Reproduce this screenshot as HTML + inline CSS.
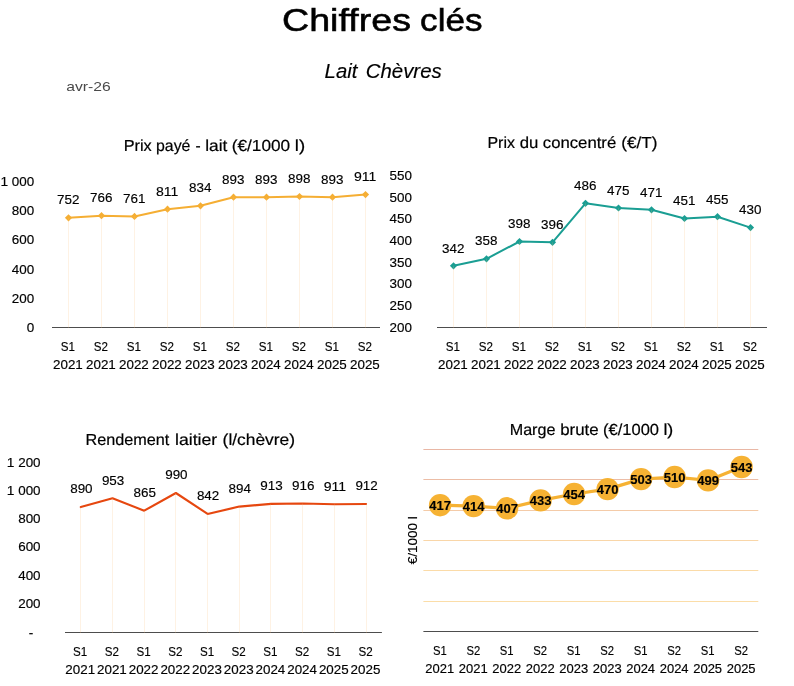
<!DOCTYPE html>
<html lang="fr"><head><meta charset="utf-8"><title>Chiffres clés</title>
<style>
html,body{margin:0;padding:0;background:#fff}
svg{display:block}
text{font-family:"Liberation Sans",sans-serif;stroke:#000;stroke-width:0.15px}
</style></head><body>
<svg width="794" height="686" viewBox="0 0 794 686">
<rect width="794" height="686" fill="#fff"/>
<text y="30.6" font-size="30.6" style="stroke-width:0.55px"><tspan x="281.99" textLength="128.97" lengthAdjust="spacingAndGlyphs">Chiffres</tspan> <tspan x="420.13" textLength="62.29" lengthAdjust="spacingAndGlyphs">clés</tspan></text>
<text y="77.8" font-size="19.6" font-style="italic"><tspan x="324.62" textLength="32.73" lengthAdjust="spacingAndGlyphs">Lait</tspan> <tspan x="365.70" textLength="76.06" lengthAdjust="spacingAndGlyphs">Chèvres</tspan></text>
<text x="66.2" y="90.9" font-size="13" fill="#4a4a4a" style="stroke:none" textLength="44.5" lengthAdjust="spacingAndGlyphs">avr-26</text>
<line x1="52.0" y1="327.5" x2="380.0" y2="327.5" stroke="#4d4d4d" stroke-width="1"/>
<polyline points="68.5,217.8 101.5,215.7 134.5,216.4 167.5,209.2 200.5,205.8 233.5,197.2 266.5,197.2 299.5,196.5 332.5,197.2 365.5,194.6" fill="none" stroke="#F5AE33" stroke-width="2.0" stroke-linejoin="round" stroke-linecap="round"/>
<path d="M64.9 217.8L68.5 214.2L72.1 217.8L68.5 221.4Z" fill="#F5AE33"/>
<path d="M97.9 215.7L101.5 212.1L105.1 215.7L101.5 219.3Z" fill="#F5AE33"/>
<path d="M130.9 216.4L134.5 212.8L138.1 216.4L134.5 220.0Z" fill="#F5AE33"/>
<path d="M163.9 209.2L167.5 205.6L171.1 209.2L167.5 212.8Z" fill="#F5AE33"/>
<path d="M196.9 205.8L200.5 202.2L204.1 205.8L200.5 209.4Z" fill="#F5AE33"/>
<path d="M229.9 197.2L233.5 193.6L237.1 197.2L233.5 200.8Z" fill="#F5AE33"/>
<path d="M262.9 197.2L266.5 193.6L270.1 197.2L266.5 200.8Z" fill="#F5AE33"/>
<path d="M295.9 196.5L299.5 192.9L303.1 196.5L299.5 200.1Z" fill="#F5AE33"/>
<path d="M328.9 197.2L332.5 193.6L336.1 197.2L332.5 200.8Z" fill="#F5AE33"/>
<path d="M361.9 194.6L365.5 191.0L369.1 194.6L365.5 198.2Z" fill="#F5AE33"/>
<line x1="68.5" y1="217.8" x2="68.5" y2="328.0" stroke="#F8C07A" stroke-opacity="0.2" stroke-width="1"/>
<line x1="101.5" y1="215.7" x2="101.5" y2="328.0" stroke="#F8C07A" stroke-opacity="0.2" stroke-width="1"/>
<line x1="134.5" y1="216.4" x2="134.5" y2="328.0" stroke="#F8C07A" stroke-opacity="0.2" stroke-width="1"/>
<line x1="167.5" y1="209.2" x2="167.5" y2="328.0" stroke="#F8C07A" stroke-opacity="0.2" stroke-width="1"/>
<line x1="200.5" y1="205.8" x2="200.5" y2="328.0" stroke="#F8C07A" stroke-opacity="0.2" stroke-width="1"/>
<line x1="233.5" y1="197.2" x2="233.5" y2="328.0" stroke="#F8C07A" stroke-opacity="0.2" stroke-width="1"/>
<line x1="266.5" y1="197.2" x2="266.5" y2="328.0" stroke="#F8C07A" stroke-opacity="0.2" stroke-width="1"/>
<line x1="299.5" y1="196.5" x2="299.5" y2="328.0" stroke="#F8C07A" stroke-opacity="0.2" stroke-width="1"/>
<line x1="332.5" y1="197.2" x2="332.5" y2="328.0" stroke="#F8C07A" stroke-opacity="0.2" stroke-width="1"/>
<line x1="365.5" y1="194.6" x2="365.5" y2="328.0" stroke="#F8C07A" stroke-opacity="0.2" stroke-width="1"/>
<text x="57.0" y="204.4" font-size="12.5" textLength="22.4" lengthAdjust="spacingAndGlyphs">752</text>
<text x="90.0" y="202.3" font-size="12.5" textLength="22.4" lengthAdjust="spacingAndGlyphs">766</text>
<text x="123.0" y="203.0" font-size="12.5" textLength="22.4" lengthAdjust="spacingAndGlyphs">761</text>
<text x="156.0" y="195.8" font-size="12.5" textLength="22.4" lengthAdjust="spacingAndGlyphs">811</text>
<text x="189.0" y="192.4" font-size="12.5" textLength="22.4" lengthAdjust="spacingAndGlyphs">834</text>
<text x="222.0" y="183.8" font-size="12.5" textLength="22.4" lengthAdjust="spacingAndGlyphs">893</text>
<text x="255.0" y="183.8" font-size="12.5" textLength="22.4" lengthAdjust="spacingAndGlyphs">893</text>
<text x="288.0" y="183.1" font-size="12.5" textLength="22.4" lengthAdjust="spacingAndGlyphs">898</text>
<text x="321.0" y="183.8" font-size="12.5" textLength="22.4" lengthAdjust="spacingAndGlyphs">893</text>
<text x="354.0" y="181.2" font-size="12.5" textLength="22.4" lengthAdjust="spacingAndGlyphs">911</text>
<text x="60.8" y="351.3" font-size="12.5" textLength="14.2" lengthAdjust="spacingAndGlyphs">S1</text>
<text x="53.0" y="368.9" font-size="12.5" textLength="29.8" lengthAdjust="spacingAndGlyphs">2021</text>
<text x="93.8" y="351.3" font-size="12.5" textLength="14.2" lengthAdjust="spacingAndGlyphs">S2</text>
<text x="86.0" y="368.9" font-size="12.5" textLength="29.8" lengthAdjust="spacingAndGlyphs">2021</text>
<text x="126.8" y="351.3" font-size="12.5" textLength="14.2" lengthAdjust="spacingAndGlyphs">S1</text>
<text x="119.0" y="368.9" font-size="12.5" textLength="29.8" lengthAdjust="spacingAndGlyphs">2022</text>
<text x="159.8" y="351.3" font-size="12.5" textLength="14.2" lengthAdjust="spacingAndGlyphs">S2</text>
<text x="152.0" y="368.9" font-size="12.5" textLength="29.8" lengthAdjust="spacingAndGlyphs">2022</text>
<text x="192.8" y="351.3" font-size="12.5" textLength="14.2" lengthAdjust="spacingAndGlyphs">S1</text>
<text x="185.0" y="368.9" font-size="12.5" textLength="29.8" lengthAdjust="spacingAndGlyphs">2023</text>
<text x="225.8" y="351.3" font-size="12.5" textLength="14.2" lengthAdjust="spacingAndGlyphs">S2</text>
<text x="218.0" y="368.9" font-size="12.5" textLength="29.8" lengthAdjust="spacingAndGlyphs">2023</text>
<text x="258.8" y="351.3" font-size="12.5" textLength="14.2" lengthAdjust="spacingAndGlyphs">S1</text>
<text x="251.0" y="368.9" font-size="12.5" textLength="29.8" lengthAdjust="spacingAndGlyphs">2024</text>
<text x="291.8" y="351.3" font-size="12.5" textLength="14.2" lengthAdjust="spacingAndGlyphs">S2</text>
<text x="284.0" y="368.9" font-size="12.5" textLength="29.8" lengthAdjust="spacingAndGlyphs">2024</text>
<text x="324.8" y="351.3" font-size="12.5" textLength="14.2" lengthAdjust="spacingAndGlyphs">S1</text>
<text x="317.0" y="368.9" font-size="12.5" textLength="29.8" lengthAdjust="spacingAndGlyphs">2025</text>
<text x="357.8" y="351.3" font-size="12.5" textLength="14.2" lengthAdjust="spacingAndGlyphs">S2</text>
<text x="350.0" y="368.9" font-size="12.5" textLength="29.8" lengthAdjust="spacingAndGlyphs">2025</text>
<text y="186.0" font-size="12.5"><tspan x="0.4" textLength="11.5" lengthAdjust="spacingAndGlyphs">1 </tspan><tspan x="11.8" textLength="22.4" lengthAdjust="spacingAndGlyphs">000</tspan></text>
<text x="11.8" y="215.0" font-size="12.5" textLength="22.4" lengthAdjust="spacingAndGlyphs">800</text>
<text x="11.8" y="244.0" font-size="12.5" textLength="22.4" lengthAdjust="spacingAndGlyphs">600</text>
<text x="11.8" y="274.0" font-size="12.5" textLength="22.4" lengthAdjust="spacingAndGlyphs">400</text>
<text x="11.8" y="303.0" font-size="12.5" textLength="22.4" lengthAdjust="spacingAndGlyphs">200</text>
<text x="26.7" y="332.0" font-size="12.5" textLength="7.5" lengthAdjust="spacingAndGlyphs">0</text>
<text y="151.0" font-size="16.0" style="stroke-width:0.2px;text-rendering:geometricPrecision"><tspan x="123.71" textLength="28.04" lengthAdjust="spacingAndGlyphs">Prix</tspan> <tspan x="156.07" textLength="34.35" lengthAdjust="spacingAndGlyphs">payé</tspan> <tspan x="195.40" textLength="5.14" lengthAdjust="spacingAndGlyphs">-</tspan> <tspan x="205.22" textLength="22.16" lengthAdjust="spacingAndGlyphs">lait</tspan> <tspan x="231.80" textLength="58.35" lengthAdjust="spacingAndGlyphs">(€/1000</tspan> <tspan x="294.87" textLength="10.31" lengthAdjust="spacingAndGlyphs">l)</tspan></text>
<line x1="437.0" y1="327.5" x2="767.0" y2="327.5" stroke="#4d4d4d" stroke-width="1"/>
<polyline points="453.5,265.8 486.5,258.8 519.5,241.5 552.5,242.3 585.5,203.3 618.5,208.0 651.5,209.8 684.5,218.5 717.5,216.7 750.5,227.6" fill="none" stroke="#1A9E93" stroke-width="2.0" stroke-linejoin="round" stroke-linecap="round"/>
<path d="M449.9 265.8L453.5 262.2L457.1 265.8L453.5 269.4Z" fill="#1A9E93"/>
<path d="M482.9 258.8L486.5 255.2L490.1 258.8L486.5 262.4Z" fill="#1A9E93"/>
<path d="M515.9 241.5L519.5 237.9L523.1 241.5L519.5 245.1Z" fill="#1A9E93"/>
<path d="M548.9 242.3L552.5 238.7L556.1 242.3L552.5 245.9Z" fill="#1A9E93"/>
<path d="M581.9 203.3L585.5 199.7L589.1 203.3L585.5 206.9Z" fill="#1A9E93"/>
<path d="M614.9 208.0L618.5 204.4L622.1 208.0L618.5 211.6Z" fill="#1A9E93"/>
<path d="M647.9 209.8L651.5 206.2L655.1 209.8L651.5 213.4Z" fill="#1A9E93"/>
<path d="M680.9 218.5L684.5 214.9L688.1 218.5L684.5 222.1Z" fill="#1A9E93"/>
<path d="M713.9 216.7L717.5 213.1L721.1 216.7L717.5 220.3Z" fill="#1A9E93"/>
<path d="M746.9 227.6L750.5 224.0L754.1 227.6L750.5 231.2Z" fill="#1A9E93"/>
<line x1="453.5" y1="265.8" x2="453.5" y2="328.0" stroke="#F8C07A" stroke-opacity="0.2" stroke-width="1"/>
<line x1="486.5" y1="258.8" x2="486.5" y2="328.0" stroke="#F8C07A" stroke-opacity="0.2" stroke-width="1"/>
<line x1="519.5" y1="241.5" x2="519.5" y2="328.0" stroke="#F8C07A" stroke-opacity="0.2" stroke-width="1"/>
<line x1="552.5" y1="242.3" x2="552.5" y2="328.0" stroke="#F8C07A" stroke-opacity="0.2" stroke-width="1"/>
<line x1="585.5" y1="203.3" x2="585.5" y2="328.0" stroke="#F8C07A" stroke-opacity="0.2" stroke-width="1"/>
<line x1="618.5" y1="208.0" x2="618.5" y2="328.0" stroke="#F8C07A" stroke-opacity="0.2" stroke-width="1"/>
<line x1="651.5" y1="209.8" x2="651.5" y2="328.0" stroke="#F8C07A" stroke-opacity="0.2" stroke-width="1"/>
<line x1="684.5" y1="218.5" x2="684.5" y2="328.0" stroke="#F8C07A" stroke-opacity="0.2" stroke-width="1"/>
<line x1="717.5" y1="216.7" x2="717.5" y2="328.0" stroke="#F8C07A" stroke-opacity="0.2" stroke-width="1"/>
<line x1="750.5" y1="227.6" x2="750.5" y2="328.0" stroke="#F8C07A" stroke-opacity="0.2" stroke-width="1"/>
<text x="442.0" y="253.2" font-size="12.5" textLength="22.4" lengthAdjust="spacingAndGlyphs">342</text>
<text x="475.0" y="245.4" font-size="12.5" textLength="22.4" lengthAdjust="spacingAndGlyphs">358</text>
<text x="508.0" y="228.1" font-size="12.5" textLength="22.4" lengthAdjust="spacingAndGlyphs">398</text>
<text x="541.0" y="228.9" font-size="12.5" textLength="22.4" lengthAdjust="spacingAndGlyphs">396</text>
<text x="574.0" y="189.9" font-size="12.5" textLength="22.4" lengthAdjust="spacingAndGlyphs">486</text>
<text x="607.0" y="194.6" font-size="12.5" textLength="22.4" lengthAdjust="spacingAndGlyphs">475</text>
<text x="640.0" y="197.2" font-size="12.5" textLength="22.4" lengthAdjust="spacingAndGlyphs">471</text>
<text x="673.0" y="205.1" font-size="12.5" textLength="22.4" lengthAdjust="spacingAndGlyphs">451</text>
<text x="706.0" y="204.3" font-size="12.5" textLength="22.4" lengthAdjust="spacingAndGlyphs">455</text>
<text x="739.0" y="214.2" font-size="12.5" textLength="22.4" lengthAdjust="spacingAndGlyphs">430</text>
<text x="445.8" y="351.3" font-size="12.5" textLength="14.2" lengthAdjust="spacingAndGlyphs">S1</text>
<text x="438.0" y="368.9" font-size="12.5" textLength="29.8" lengthAdjust="spacingAndGlyphs">2021</text>
<text x="478.8" y="351.3" font-size="12.5" textLength="14.2" lengthAdjust="spacingAndGlyphs">S2</text>
<text x="471.0" y="368.9" font-size="12.5" textLength="29.8" lengthAdjust="spacingAndGlyphs">2021</text>
<text x="511.8" y="351.3" font-size="12.5" textLength="14.2" lengthAdjust="spacingAndGlyphs">S1</text>
<text x="504.0" y="368.9" font-size="12.5" textLength="29.8" lengthAdjust="spacingAndGlyphs">2022</text>
<text x="544.8" y="351.3" font-size="12.5" textLength="14.2" lengthAdjust="spacingAndGlyphs">S2</text>
<text x="537.0" y="368.9" font-size="12.5" textLength="29.8" lengthAdjust="spacingAndGlyphs">2022</text>
<text x="577.8" y="351.3" font-size="12.5" textLength="14.2" lengthAdjust="spacingAndGlyphs">S1</text>
<text x="570.0" y="368.9" font-size="12.5" textLength="29.8" lengthAdjust="spacingAndGlyphs">2023</text>
<text x="610.8" y="351.3" font-size="12.5" textLength="14.2" lengthAdjust="spacingAndGlyphs">S2</text>
<text x="603.0" y="368.9" font-size="12.5" textLength="29.8" lengthAdjust="spacingAndGlyphs">2023</text>
<text x="643.8" y="351.3" font-size="12.5" textLength="14.2" lengthAdjust="spacingAndGlyphs">S1</text>
<text x="636.0" y="368.9" font-size="12.5" textLength="29.8" lengthAdjust="spacingAndGlyphs">2024</text>
<text x="676.8" y="351.3" font-size="12.5" textLength="14.2" lengthAdjust="spacingAndGlyphs">S2</text>
<text x="669.0" y="368.9" font-size="12.5" textLength="29.8" lengthAdjust="spacingAndGlyphs">2024</text>
<text x="709.8" y="351.3" font-size="12.5" textLength="14.2" lengthAdjust="spacingAndGlyphs">S1</text>
<text x="702.0" y="368.9" font-size="12.5" textLength="29.8" lengthAdjust="spacingAndGlyphs">2025</text>
<text x="742.8" y="351.3" font-size="12.5" textLength="14.2" lengthAdjust="spacingAndGlyphs">S2</text>
<text x="735.0" y="368.9" font-size="12.5" textLength="29.8" lengthAdjust="spacingAndGlyphs">2025</text>
<text x="389.5" y="180.0" font-size="12.5" textLength="22.4" lengthAdjust="spacingAndGlyphs">550</text>
<text x="389.5" y="202.0" font-size="12.5" textLength="22.4" lengthAdjust="spacingAndGlyphs">500</text>
<text x="389.5" y="223.0" font-size="12.5" textLength="22.4" lengthAdjust="spacingAndGlyphs">450</text>
<text x="389.5" y="245.0" font-size="12.5" textLength="22.4" lengthAdjust="spacingAndGlyphs">400</text>
<text x="389.5" y="267.0" font-size="12.5" textLength="22.4" lengthAdjust="spacingAndGlyphs">350</text>
<text x="389.5" y="288.0" font-size="12.5" textLength="22.4" lengthAdjust="spacingAndGlyphs">300</text>
<text x="389.5" y="310.0" font-size="12.5" textLength="22.4" lengthAdjust="spacingAndGlyphs">250</text>
<text x="389.5" y="332.0" font-size="12.5" textLength="22.4" lengthAdjust="spacingAndGlyphs">200</text>
<text y="148.0" font-size="16.0" style="stroke-width:0.2px;text-rendering:geometricPrecision"><tspan x="487.49" textLength="27.47" lengthAdjust="spacingAndGlyphs">Prix</tspan> <tspan x="519.77" textLength="18.61" lengthAdjust="spacingAndGlyphs">du</tspan> <tspan x="542.81" textLength="73.44" lengthAdjust="spacingAndGlyphs">concentré</tspan> <tspan x="621.26" textLength="36.15" lengthAdjust="spacingAndGlyphs">(€/T)</tspan></text>
<line x1="65.0" y1="632.5" x2="381.9" y2="632.5" stroke="#4d4d4d" stroke-width="1"/>
<polyline points="80.8,507.1 112.5,498.2 144.2,510.7 175.9,493.0 207.6,513.9 239.3,506.6 271.0,503.9 302.7,503.5 334.4,504.2 366.1,504.0" fill="none" stroke="#E6470F" stroke-width="2.1" stroke-linejoin="round" stroke-linecap="round"/>
<line x1="80.5" y1="507.1" x2="80.5" y2="633.0" stroke="#F8C07A" stroke-opacity="0.2" stroke-width="1"/>
<line x1="112.5" y1="498.2" x2="112.5" y2="633.0" stroke="#F8C07A" stroke-opacity="0.2" stroke-width="1"/>
<line x1="144.5" y1="510.7" x2="144.5" y2="633.0" stroke="#F8C07A" stroke-opacity="0.2" stroke-width="1"/>
<line x1="175.5" y1="493.0" x2="175.5" y2="633.0" stroke="#F8C07A" stroke-opacity="0.2" stroke-width="1"/>
<line x1="207.5" y1="513.9" x2="207.5" y2="633.0" stroke="#F8C07A" stroke-opacity="0.2" stroke-width="1"/>
<line x1="239.5" y1="506.6" x2="239.5" y2="633.0" stroke="#F8C07A" stroke-opacity="0.2" stroke-width="1"/>
<line x1="270.5" y1="503.9" x2="270.5" y2="633.0" stroke="#F8C07A" stroke-opacity="0.2" stroke-width="1"/>
<line x1="302.5" y1="503.5" x2="302.5" y2="633.0" stroke="#F8C07A" stroke-opacity="0.2" stroke-width="1"/>
<line x1="334.5" y1="504.2" x2="334.5" y2="633.0" stroke="#F8C07A" stroke-opacity="0.2" stroke-width="1"/>
<line x1="366.5" y1="504.0" x2="366.5" y2="633.0" stroke="#F8C07A" stroke-opacity="0.2" stroke-width="1"/>
<text x="70.2" y="493.2" font-size="12.5" textLength="22.4" lengthAdjust="spacingAndGlyphs">890</text>
<text x="101.9" y="485.1" font-size="12.5" textLength="22.4" lengthAdjust="spacingAndGlyphs">953</text>
<text x="133.5" y="496.8" font-size="12.5" textLength="22.4" lengthAdjust="spacingAndGlyphs">865</text>
<text x="165.2" y="479.1" font-size="12.5" textLength="22.4" lengthAdjust="spacingAndGlyphs">990</text>
<text x="196.9" y="500.0" font-size="12.5" textLength="22.4" lengthAdjust="spacingAndGlyphs">842</text>
<text x="228.6" y="492.7" font-size="12.5" textLength="22.4" lengthAdjust="spacingAndGlyphs">894</text>
<text x="260.3" y="490.0" font-size="12.5" textLength="22.4" lengthAdjust="spacingAndGlyphs">913</text>
<text x="292.0" y="489.6" font-size="12.5" textLength="22.4" lengthAdjust="spacingAndGlyphs">916</text>
<text x="323.7" y="491.1" font-size="12.5" textLength="22.4" lengthAdjust="spacingAndGlyphs">911</text>
<text x="355.4" y="490.1" font-size="12.5" textLength="22.4" lengthAdjust="spacingAndGlyphs">912</text>
<text x="73.1" y="655.8" font-size="12.5" textLength="14.2" lengthAdjust="spacingAndGlyphs">S1</text>
<text x="65.3" y="673.9" font-size="12.5" textLength="29.8" lengthAdjust="spacingAndGlyphs">2021</text>
<text x="104.8" y="655.8" font-size="12.5" textLength="14.2" lengthAdjust="spacingAndGlyphs">S2</text>
<text x="97.0" y="673.9" font-size="12.5" textLength="29.8" lengthAdjust="spacingAndGlyphs">2021</text>
<text x="136.5" y="655.8" font-size="12.5" textLength="14.2" lengthAdjust="spacingAndGlyphs">S1</text>
<text x="128.7" y="673.9" font-size="12.5" textLength="29.8" lengthAdjust="spacingAndGlyphs">2022</text>
<text x="168.2" y="655.8" font-size="12.5" textLength="14.2" lengthAdjust="spacingAndGlyphs">S2</text>
<text x="160.4" y="673.9" font-size="12.5" textLength="29.8" lengthAdjust="spacingAndGlyphs">2022</text>
<text x="199.9" y="655.8" font-size="12.5" textLength="14.2" lengthAdjust="spacingAndGlyphs">S1</text>
<text x="192.1" y="673.9" font-size="12.5" textLength="29.8" lengthAdjust="spacingAndGlyphs">2023</text>
<text x="231.6" y="655.8" font-size="12.5" textLength="14.2" lengthAdjust="spacingAndGlyphs">S2</text>
<text x="223.8" y="673.9" font-size="12.5" textLength="29.8" lengthAdjust="spacingAndGlyphs">2023</text>
<text x="263.3" y="655.8" font-size="12.5" textLength="14.2" lengthAdjust="spacingAndGlyphs">S1</text>
<text x="255.5" y="673.9" font-size="12.5" textLength="29.8" lengthAdjust="spacingAndGlyphs">2024</text>
<text x="295.0" y="655.8" font-size="12.5" textLength="14.2" lengthAdjust="spacingAndGlyphs">S2</text>
<text x="287.2" y="673.9" font-size="12.5" textLength="29.8" lengthAdjust="spacingAndGlyphs">2024</text>
<text x="326.7" y="655.8" font-size="12.5" textLength="14.2" lengthAdjust="spacingAndGlyphs">S1</text>
<text x="318.9" y="673.9" font-size="12.5" textLength="29.8" lengthAdjust="spacingAndGlyphs">2025</text>
<text x="358.4" y="655.8" font-size="12.5" textLength="14.2" lengthAdjust="spacingAndGlyphs">S2</text>
<text x="350.6" y="673.9" font-size="12.5" textLength="29.8" lengthAdjust="spacingAndGlyphs">2025</text>
<text y="467.0" font-size="12.5"><tspan x="6.8" textLength="11.5" lengthAdjust="spacingAndGlyphs">1 </tspan><tspan x="18.2" textLength="22.4" lengthAdjust="spacingAndGlyphs">200</tspan></text>
<text y="495.0" font-size="12.5"><tspan x="6.8" textLength="11.5" lengthAdjust="spacingAndGlyphs">1 </tspan><tspan x="18.2" textLength="22.4" lengthAdjust="spacingAndGlyphs">000</tspan></text>
<text x="18.2" y="523.0" font-size="12.5" textLength="22.4" lengthAdjust="spacingAndGlyphs">800</text>
<text x="18.2" y="551.0" font-size="12.5" textLength="22.4" lengthAdjust="spacingAndGlyphs">600</text>
<text x="18.2" y="580.0" font-size="12.5" textLength="22.4" lengthAdjust="spacingAndGlyphs">400</text>
<text x="18.2" y="608.0" font-size="12.5" textLength="22.4" lengthAdjust="spacingAndGlyphs">200</text>
<text y="445.0" font-size="16.0" style="stroke-width:0.2px;text-rendering:geometricPrecision"><tspan x="85.43" textLength="83.88" lengthAdjust="spacingAndGlyphs">Rendement</tspan> <tspan x="175.00" textLength="42.10" lengthAdjust="spacingAndGlyphs">laitier</tspan> <tspan x="222.61" textLength="72.41" lengthAdjust="spacingAndGlyphs">(l/chèvre)</tspan></text>
<text x="28.7" y="636.6" font-size="12.5" textLength="4.5" lengthAdjust="spacingAndGlyphs">-</text>
<line x1="423.4" y1="601.5" x2="758.3" y2="601.5" stroke="#FBDDA8" stroke-width="1"/>
<line x1="423.4" y1="570.5" x2="758.3" y2="570.5" stroke="#FBDBA8" stroke-width="1"/>
<line x1="423.4" y1="540.5" x2="758.3" y2="540.5" stroke="#F9D6A8" stroke-width="1"/>
<line x1="423.4" y1="510.5" x2="758.3" y2="510.5" stroke="#F4CBA8" stroke-width="1"/>
<line x1="423.4" y1="479.5" x2="758.3" y2="479.5" stroke="#ECBDA6" stroke-width="1"/>
<line x1="423.4" y1="449.5" x2="758.3" y2="449.5" stroke="#E9B7A5" stroke-width="1"/>
<line x1="423.4" y1="631.5" x2="758.3" y2="631.5" stroke="#4d4d4d" stroke-width="1"/>
<polyline points="440.1,505.2 473.6,506.1 507.1,508.3 540.6,500.4 574.1,494.0 607.6,489.1 641.1,479.1 674.6,477.0 708.1,480.4 741.6,467.0" fill="none" stroke="#F6B233" stroke-width="3.2" stroke-linejoin="round"/>
<circle cx="440.1" cy="505.2" r="11.2" fill="#F6B233"/>
<circle cx="473.6" cy="506.1" r="11.2" fill="#F6B233"/>
<circle cx="507.1" cy="508.3" r="11.2" fill="#F6B233"/>
<circle cx="540.6" cy="500.4" r="11.2" fill="#F6B233"/>
<circle cx="574.1" cy="494.0" r="11.2" fill="#F6B233"/>
<circle cx="607.6" cy="489.1" r="11.2" fill="#F6B233"/>
<circle cx="641.1" cy="479.1" r="11.2" fill="#F6B233"/>
<circle cx="674.6" cy="477.0" r="11.2" fill="#F6B233"/>
<circle cx="708.1" cy="480.4" r="11.2" fill="#F6B233"/>
<circle cx="741.6" cy="467.0" r="11.2" fill="#F6B233"/>
<text x="429.3" y="510.0" font-size="12.6" font-weight="bold" textLength="21.7" lengthAdjust="spacingAndGlyphs">417</text>
<text x="462.8" y="510.9" font-size="12.6" font-weight="bold" textLength="21.7" lengthAdjust="spacingAndGlyphs">414</text>
<text x="496.3" y="513.1" font-size="12.6" font-weight="bold" textLength="21.7" lengthAdjust="spacingAndGlyphs">407</text>
<text x="529.7" y="505.2" font-size="12.6" font-weight="bold" textLength="21.7" lengthAdjust="spacingAndGlyphs">433</text>
<text x="563.2" y="498.8" font-size="12.6" font-weight="bold" textLength="21.7" lengthAdjust="spacingAndGlyphs">454</text>
<text x="596.7" y="493.9" font-size="12.6" font-weight="bold" textLength="21.7" lengthAdjust="spacingAndGlyphs">470</text>
<text x="630.2" y="483.9" font-size="12.6" font-weight="bold" textLength="21.7" lengthAdjust="spacingAndGlyphs">503</text>
<text x="663.7" y="481.8" font-size="12.6" font-weight="bold" textLength="21.7" lengthAdjust="spacingAndGlyphs">510</text>
<text x="697.2" y="485.2" font-size="12.6" font-weight="bold" textLength="21.7" lengthAdjust="spacingAndGlyphs">499</text>
<text x="730.7" y="471.8" font-size="12.6" font-weight="bold" textLength="21.7" lengthAdjust="spacingAndGlyphs">543</text>
<text x="432.9" y="654.5" font-size="12.5" textLength="13.8" lengthAdjust="spacingAndGlyphs">S1</text>
<text x="425.3" y="672.8" font-size="12.5" textLength="28.9" lengthAdjust="spacingAndGlyphs">2021</text>
<text x="466.4" y="654.5" font-size="12.5" textLength="13.8" lengthAdjust="spacingAndGlyphs">S2</text>
<text x="458.8" y="672.8" font-size="12.5" textLength="28.9" lengthAdjust="spacingAndGlyphs">2021</text>
<text x="499.8" y="654.5" font-size="12.5" textLength="13.8" lengthAdjust="spacingAndGlyphs">S1</text>
<text x="492.3" y="672.8" font-size="12.5" textLength="28.9" lengthAdjust="spacingAndGlyphs">2022</text>
<text x="533.3" y="654.5" font-size="12.5" textLength="13.8" lengthAdjust="spacingAndGlyphs">S2</text>
<text x="525.8" y="672.8" font-size="12.5" textLength="28.9" lengthAdjust="spacingAndGlyphs">2022</text>
<text x="566.8" y="654.5" font-size="12.5" textLength="13.8" lengthAdjust="spacingAndGlyphs">S1</text>
<text x="559.3" y="672.8" font-size="12.5" textLength="28.9" lengthAdjust="spacingAndGlyphs">2023</text>
<text x="600.3" y="654.5" font-size="12.5" textLength="13.8" lengthAdjust="spacingAndGlyphs">S2</text>
<text x="592.8" y="672.8" font-size="12.5" textLength="28.9" lengthAdjust="spacingAndGlyphs">2023</text>
<text x="633.8" y="654.5" font-size="12.5" textLength="13.8" lengthAdjust="spacingAndGlyphs">S1</text>
<text x="626.2" y="672.8" font-size="12.5" textLength="28.9" lengthAdjust="spacingAndGlyphs">2024</text>
<text x="667.3" y="654.5" font-size="12.5" textLength="13.8" lengthAdjust="spacingAndGlyphs">S2</text>
<text x="659.7" y="672.8" font-size="12.5" textLength="28.9" lengthAdjust="spacingAndGlyphs">2024</text>
<text x="700.8" y="654.5" font-size="12.5" textLength="13.8" lengthAdjust="spacingAndGlyphs">S1</text>
<text x="693.2" y="672.8" font-size="12.5" textLength="28.9" lengthAdjust="spacingAndGlyphs">2025</text>
<text x="734.3" y="654.5" font-size="12.5" textLength="13.8" lengthAdjust="spacingAndGlyphs">S2</text>
<text x="726.7" y="672.8" font-size="12.5" textLength="28.9" lengthAdjust="spacingAndGlyphs">2025</text>
<text y="435.0" font-size="16.0" style="stroke-width:0.2px;text-rendering:geometricPrecision"><tspan x="509.72" textLength="45.72" lengthAdjust="spacingAndGlyphs">Marge</tspan> <tspan x="560.18" textLength="38.38" lengthAdjust="spacingAndGlyphs">brute</tspan> <tspan x="603.08" textLength="55.91" lengthAdjust="spacingAndGlyphs">(€/1000</tspan> <tspan x="663.40" textLength="9.91" lengthAdjust="spacingAndGlyphs">l)</tspan></text>
<text transform="translate(416.5,540.3) rotate(-90)" font-size="12.5" text-anchor="middle" textLength="48.1" lengthAdjust="spacingAndGlyphs">€/1000 l</text>
</svg>
</body></html>
